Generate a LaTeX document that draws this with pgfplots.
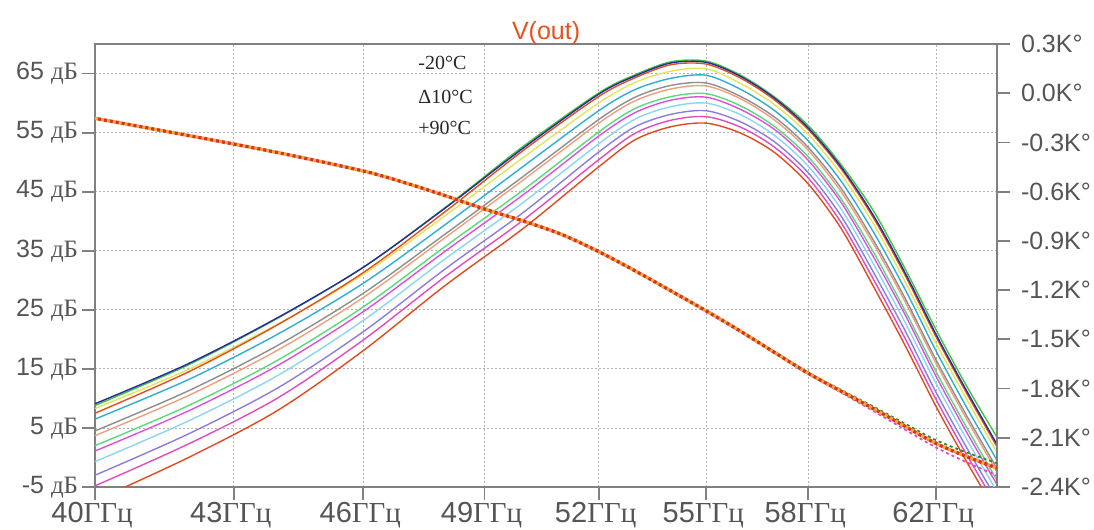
\documentclass[border=0pt]{standalone}
\usepackage{fontspec}
\setmainfont{Liberation Sans}
\newfontfamily\srf{Liberation Serif}
\usepackage{pgfplots}
\usepackage{pgfplotstable}
\pgfplotsset{compat=1.18}

\definecolor{cGreenA}{HTML}{3CC83C}
\definecolor{cBlue}{HTML}{2A2A9E}
\definecolor{cOrange}{HTML}{E0501E}
\definecolor{cYellow}{HTML}{E4E45A}
\definecolor{cCyan}{HTML}{2EAED6}
\definecolor{cGray}{HTML}{8E8E8E}
\definecolor{cSalmon}{HTML}{EEA07E}
\definecolor{cGreenB}{HTML}{58DC78}
\definecolor{cMagenta}{HTML}{DC50DC}
\definecolor{cLCyan}{HTML}{8AD6EE}
\definecolor{cPurple}{HTML}{8C7CDC}
\definecolor{cPink}{HTML}{E04CBE}
\definecolor{cRed}{HTML}{E04A1E}
\definecolor{cDotA}{HTML}{F0A838}
\definecolor{cDotB}{HTML}{D83222}
\definecolor{cTitle}{HTML}{E8501E}
\definecolor{cTxt}{HTML}{555555}
\definecolor{cAx}{HTML}{808080}

% magnitude, dB, one column per temperature step
\pgfplotstableread{
f  green blue orange yellow cyan gray salmon greenb magenta lcyan purple pink red
40 8.8  9.1  7.5  8.3  6.5  4.5  3.7  2.0  1.1  -0.7 -3.0 -4.8 -7.3
42 15.7 15.9 14.5 14.9 13.2 11.3 10.5 8.8  7.9  6.2  4.0  2.3  0.0
44 23.6 23.7 22.5 22.6 20.9 19.0 18.2 16.5 15.6 13.9 11.8 10.1 8.0
46 32.2 32.2 31.3 31.0 29.5 27.8 27.1 25.5 24.7 23.2 21.3 19.9 18.1
48 42.3 42.2 41.6 40.9 39.4 37.8 37.2 35.7 34.9 33.6 31.9 30.6 29.1
50 52.7 52.4 52.0 50.8 49.3 47.6 47.0 45.3 44.5 43.2 41.5 40.2 38.8
52 61.7 61.5 61.1 60.0 58.7 57.2 56.6 55.1 54.4 53.1 51.7 50.4 49.2
53 64.8 64.6 64.3 63.5 62.3 61.0 60.4 59.1 58.4 57.3 56.0 54.9 53.8
54 67.0 66.8 66.5 65.4 64.2 63.0 62.4 61.1 60.5 59.4 58.1 57.1 56.0
55 67.1 66.9 66.6 65.8 64.7 63.4 62.9 61.6 61.0 60.0 58.7 57.7 56.6
56 64.7 64.5 64.2 63.3 62.3 61.1 60.7 59.5 58.9 58.0 56.8 55.9 54.9
57 61.0 60.8 60.5 59.7 58.7 57.6 57.1 56.0 55.5 54.5 53.4 52.5 51.6
58 56.2 55.8 55.5 54.7 53.6 52.5 52.0 50.9 50.3 49.3 48.2 47.3 46.3
59 49.6 49.2 48.9 48.0 46.8 45.6 45.0 43.8 43.2 42.1 40.9 39.8 38.8
60 41.8 41.0 40.6 39.6 38.2 36.8 36.2 34.8 34.0 32.8 31.4 30.2 29.0
61 32.0 31.3 30.9 29.8 28.5 27.0 26.4 24.9 24.2 22.9 21.5 20.2 19.0
62 21.6 20.8 20.4 19.3 18.0 16.5 15.9 14.5 13.7 12.5 11.0 9.8  8.6
63 12.0 11.2 10.8 9.8  8.4  7.0  6.4  5.0  4.2  3.0  1.6  0.4  -0.8
64 3.4  2.2  1.8  0.8  -0.5 -1.9 -2.5 -3.9 -4.6 -5.8 -7.2 -8.3 -9.5
}\magtab

% phase, kilodegrees
\pgfplotstableread{
f  top    mid    bot
40 -0.153 -0.153 -0.153
42 -0.258 -0.258 -0.258
44 -0.362 -0.362 -0.362
46 -0.474 -0.474 -0.474
47 -0.545 -0.545 -0.545
48 -0.624 -0.624 -0.624
49 -0.706 -0.706 -0.706
50 -0.779 -0.779 -0.779
51 -0.860 -0.860 -0.860
52 -0.965 -0.965 -0.965
53 -1.083 -1.083 -1.083
54 -1.205 -1.205 -1.205
55 -1.327 -1.327 -1.327
56 -1.450 -1.452 -1.454
57 -1.578 -1.581 -1.584
58 -1.702 -1.707 -1.712
59 -1.808 -1.816 -1.824
60 -1.910 -1.922 -1.937
61 -2.014 -2.030 -2.050
62 -2.115 -2.135 -2.160
63 -2.190 -2.215 -2.250
64 -2.255 -2.285 -2.330
}\phtab

\begin{document}
\begin{tikzpicture}
\useasboundingbox (-47.5pt,-21.5pt) rectangle (499.5pt,243.5pt);

\begin{axis}[
  scale only axis, width=451pt, height=221.5pt,
  xmode=log, xmin=40, xmax=64,
  ymin=-5, ymax=70,
  xtick={40,43,46,49,52,55,58,62},
  xticklabels={40{\srf ГГц},43{\srf ГГц},46{\srf ГГц},49{\srf ГГц},52{\srf ГГц},55{\srf ГГц},58{\srf ГГц},62{\srf ГГц}},
  ytick={-5,5,15,25,35,45,55,65},
  yticklabels={-5 {\srf дБ},5 {\srf дБ},15 {\srf дБ},25 {\srf дБ},35 {\srf дБ},45 {\srf дБ},55 {\srf дБ},65 {\srf дБ}},
  minor xtick={}, minor ytick={},
  xtick pos=bottom, ytick pos=left,
  tick align=outside, major tick length=6.5pt,
  every tick/.style={draw=cAx, line width=0.9pt},
  axis line style={draw=cAx, line width=0.9pt},
  xticklabel style={text=cTxt, font=\fontsize{14.5}{16}\selectfont, yshift=2.5pt, xshift=-1.5pt},
  yticklabel style={text=cTxt, font=\fontsize{12.5}{14}\selectfont, xshift=1.5pt},
  xmajorgrids, ymajorgrids,
  major grid style={draw=black!30, line width=0.4pt, dash pattern=on 1pt off 1pt},
  title={V(out)},
  title style={text=cTitle, font=\fontsize{12.5}{14}\selectfont, yshift=-10pt},
]
\addplot[no marks, smooth, line width=0.7pt, cRed]     table[x=f, y=red]     {\magtab};
\addplot[no marks, smooth, line width=0.7pt, cPink]    table[x=f, y=pink]    {\magtab};
\addplot[no marks, smooth, line width=0.7pt, cPurple]  table[x=f, y=purple]  {\magtab};
\addplot[no marks, smooth, line width=0.7pt, cLCyan]   table[x=f, y=lcyan]   {\magtab};
\addplot[no marks, smooth, line width=0.7pt, cMagenta] table[x=f, y=magenta] {\magtab};
\addplot[no marks, smooth, line width=0.7pt, cGreenB]  table[x=f, y=greenb]  {\magtab};
\addplot[no marks, smooth, line width=0.7pt, cSalmon]  table[x=f, y=salmon]  {\magtab};
\addplot[no marks, smooth, line width=0.7pt, cGray]    table[x=f, y=gray]    {\magtab};
\addplot[no marks, smooth, line width=0.7pt, cCyan]    table[x=f, y=cyan]    {\magtab};
\addplot[no marks, smooth, line width=0.7pt, cYellow]  table[x=f, y=yellow]  {\magtab};
\addplot[no marks, smooth, line width=0.7pt, cOrange]  table[x=f, y=orange]  {\magtab};
\addplot[no marks, smooth, line width=0.7pt, cGreenA]  table[x=f, y=green]   {\magtab};
\addplot[no marks, smooth, line width=0.7pt, cBlue]    table[x=f, y=blue]    {\magtab};
\end{axis}

\begin{axis}[
  scale only axis, width=451pt, height=221.5pt,
  xmode=log, xmin=40, xmax=64,
  ymin=-2.4, ymax=0.3,
  axis x line=none, axis y line*=right,
  ytick={-2.4,-2.1,-1.8,-1.5,-1.2,-0.9,-0.6,-0.3,0,0.3},
  yticklabels={-2.4K°,-2.1K°,-1.8K°,-1.5K°,-1.2K°,-0.9K°,-0.6K°,-0.3K°,0.0K°,0.3K°},
  minor ytick={},
  tick align=outside, major tick length=6.5pt,
  every tick/.style={draw=cAx, line width=0.9pt},
  axis line style={draw=cAx, line width=0.9pt},
  yticklabel style={text=cTxt, font=\fontsize{12.5}{14}\selectfont, xshift=2pt},
]
\addplot[no marks, smooth, line width=0.9pt, draw=cGreenA!70!black, dash pattern=on 1.5pt off 1.5pt] table[x=f, y=top] {\phtab};
\addplot[no marks, smooth, line width=0.9pt, draw=cPink, dash pattern=on 1.5pt off 1.5pt] table[x=f, y=bot] {\phtab};
\addplot[no marks, smooth, line width=1.7pt, draw=cDotA, dash pattern=on 1.5pt off 1.5pt] table[x=f, y=mid] {\phtab};
\addplot[no marks, smooth, line width=1.7pt, draw=cDotB, dash pattern=on 1.5pt off 1.5pt, dash phase=1.5pt] table[x=f, y=mid] {\phtab};
\end{axis}

\begin{scope}[every node/.style={anchor=west, inner sep=0pt, font=\srf\fontsize{10}{12}\selectfont, text=black!85}]
\node at (161.5pt,211.9pt) {-20°C};
\node at (161.5pt,195.2pt) {Δ10°C};
\node at (161.5pt,179.4pt) {+90°C};
\end{scope}
\end{tikzpicture}
\end{document}
